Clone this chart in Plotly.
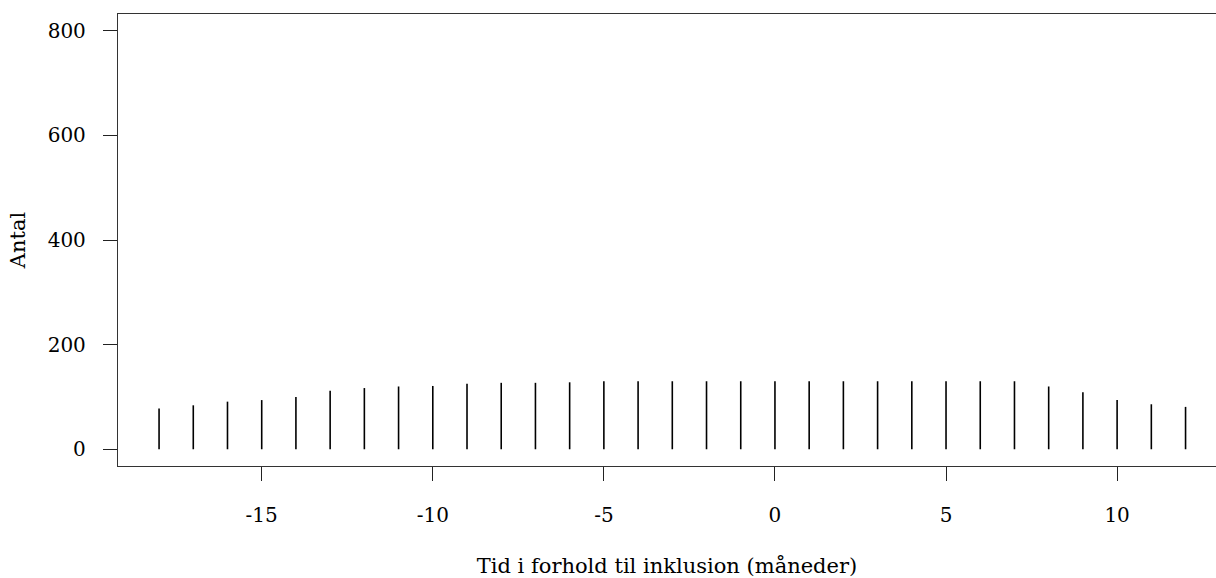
import plotly.graph_objects as go

months = list(range(-18, 13))
counts = [78, 84, 91, 94, 100, 112, 117, 120, 121, 125, 127, 127, 128, 130, 130,
          130, 130, 130, 130, 130, 130, 130, 130, 130, 130, 130, 120, 109, 94, 86, 81]
x_ticks = [-15, -10, -5, 0, 5, 10]
x_tick_labels = ["-15", "-10", "-5", "0", "5", "10"]
y_ticks = [0, 200, 400, 600, 800]

xs, ys = [], []
for m, c in zip(months, counts):
    xs += [m, m, None]
    ys += [0, c, None]

FONT = "DejaVu Serif"
fig = go.Figure()
fig.add_trace(go.Scatter(x=xs, y=ys, mode="lines",
                         line=dict(color="black", width=1.6),
                         hoverinfo="skip", showlegend=False))

fig.update_layout(
    width=1216, height=578,
    margin=dict(l=118, r=0, t=14, b=112, autoexpand=False),
    plot_bgcolor="white", paper_bgcolor="white",
    font=dict(family=FONT, size=20, color="black"),
    xaxis=dict(range=[-19.2, 12.89], tickvals=x_ticks, ticktext=x_tick_labels,
               ticks="outside", ticklen=14,
               tickwidth=1.3, tickcolor="#222", showgrid=False, zeroline=False,
               showline=True, linecolor="#333", linewidth=1.3, mirror=True,
               ticklabelstandoff=17,
               title=dict(text="Tid i forhold til inklusion (måneder)", standoff=39,
                          font=dict(family=FONT, size=21))),
    yaxis=dict(range=[-32, 832], tickvals=y_ticks, ticks="outside", ticklen=14,
               tickwidth=1.3, tickcolor="#222", showgrid=False, zeroline=False,
               showline=True, linecolor="#333", linewidth=1.3,
               ticklabelstandoff=13,
               title=dict(text="Antal", standoff=16, font=dict(family=FONT, size=21))),
)
fig.write_html("out.html")
